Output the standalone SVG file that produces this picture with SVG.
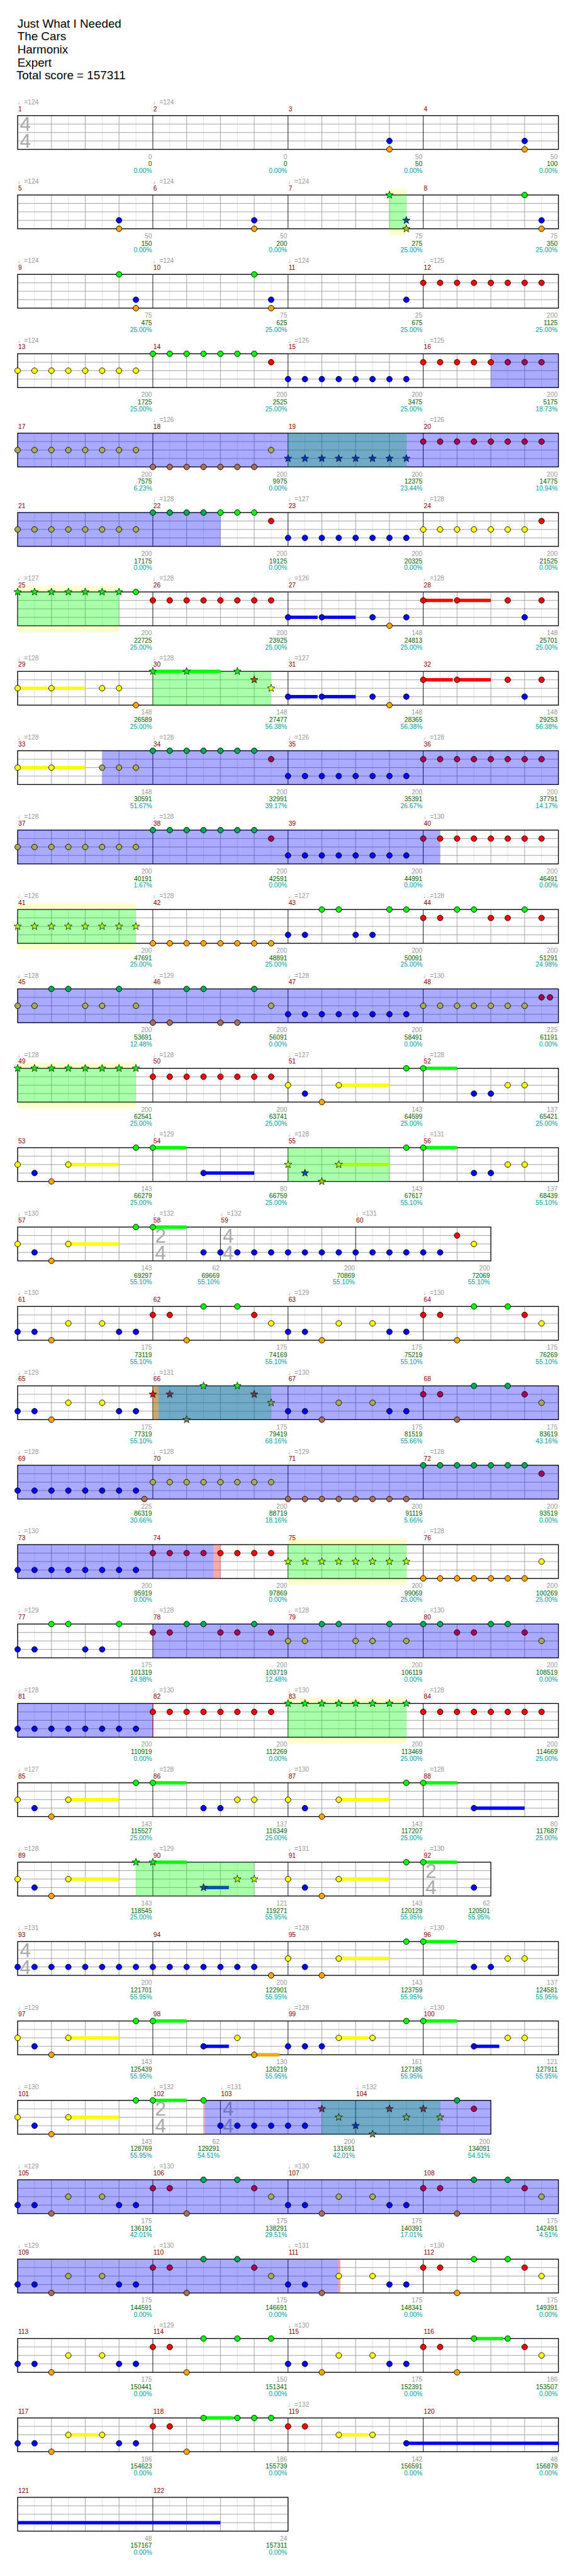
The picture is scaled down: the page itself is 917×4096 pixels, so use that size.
<svg xmlns="http://www.w3.org/2000/svg" width="917" height="4096" viewBox="0 0 917 4096">
<style>
text{font-family:"Liberation Sans",Arial,"DejaVu Sans",sans-serif;font-size:11.5px}
.h{font-size:21px;fill:#000}
.t{fill:#999}
.m{fill:#8b0000}
.a{fill:#999;text-anchor:end}
.b{fill:#006400;text-anchor:end}
.c{fill:#00a0a0;text-anchor:end}
.ts{font-size:35px;fill:#aaa}
circle{r:5px;stroke:#000;stroke-width:1}
.G{fill:#0f0}.R{fill:#f00}.Y{fill:#ff0}.B{fill:#00f}.O{fill:#ffa500}
.Gb{fill:#00aa55}.Rb{fill:#aa0055}.Yb{fill:#aaaa55}.Ob{fill:#aa6e55}
.Rg{fill:#aa5500}.Yg{fill:#aaff00}.Bg{fill:#0055aa}.Og{fill:#aac300}
.Rt{fill:#713955}.Yt{fill:#71aa55}.Bt{fill:#0039c6}.Ot{fill:#718255}
.yb{fill:#ffffcc}
.og{fill:#0f0;fill-opacity:.333}
.ob{fill:#00f;fill-opacity:.333}
.or{fill:#f00;fill-opacity:.333}
</style>
<defs>
<path id="st" d="M0-7L1.7-2.35L6.66-2.16L2.76.9L4.11 5.66L0 2.9L-4.11 5.66L-2.76.9L-6.66-2.16L-1.7-2.35Z" stroke="#000" stroke-width=".8"/>
<g id="s4">
<rect width="960" height="60" fill="#fff"/>
<path stroke="#ddd" d="M30 0v60M90 0v60M150 0v60M210 0v60M270 0v60M330 0v60M390 0v60M450 0v60M510 0v60M570 0v60M630 0v60M690 0v60M750 0v60M810 0v60M870 0v60M930 0v60"/>
<path stroke="#999" d="M60 0v60M120 0v60M180 0v60M300 0v60M360 0v60M420 0v60M540 0v60M600 0v60M660 0v60M780 0v60M840 0v60M900 0v60M0 15h960M0 30h960M0 45h960"/>
<path stroke="#000" d="M240 0v60M480 0v60M720 0v60"/>
<rect width="960" height="60" fill="none" stroke="#000" stroke-width="1.5"/>
</g>
<g id="s84a">
<rect width="840" height="60" fill="#fff"/>
<path stroke="#ddd" d="M30 0v60M90 0v60M150 0v60M210 0v60M270 0v60M330 0v60M390 0v60M450 0v60M510 0v60M570 0v60M630 0v60M690 0v60M750 0v60M810 0v60"/>
<path stroke="#999" d="M60 0v60M120 0v60M180 0v60M300 0v60M420 0v60M480 0v60M540 0v60M660 0v60M720 0v60M780 0v60M0 15h840M0 30h840M0 45h840"/>
<path stroke="#000" d="M240 0v60M360 0v60M600 0v60"/>
<rect width="840" height="60" fill="none" stroke="#000" stroke-width="1.5"/>
</g>
<g id="s84b">
<rect width="840" height="60" fill="#fff"/>
<path stroke="#ddd" d="M30 0v60M90 0v60M150 0v60M210 0v60M270 0v60M330 0v60M390 0v60M450 0v60M510 0v60M570 0v60M630 0v60M690 0v60M750 0v60M810 0v60"/>
<path stroke="#999" d="M60 0v60M120 0v60M180 0v60M300 0v60M360 0v60M420 0v60M540 0v60M600 0v60M660 0v60M780 0v60M0 15h840M0 30h840M0 45h840"/>
<path stroke="#000" d="M240 0v60M480 0v60M720 0v60"/>
<rect width="840" height="60" fill="none" stroke="#000" stroke-width="1.5"/>
</g>
<g id="s48">
<rect width="480" height="60" fill="#fff"/>
<path stroke="#ddd" d="M30 0v60M90 0v60M150 0v60M210 0v60M270 0v60M330 0v60M390 0v60M450 0v60"/>
<path stroke="#999" d="M60 0v60M120 0v60M180 0v60M300 0v60M360 0v60M420 0v60M0 15h480M0 30h480M0 45h480"/>
<path stroke="#000" d="M240 0v60"/>
<rect width="480" height="60" fill="none" stroke="#000" stroke-width="1.5"/>
</g>
</defs>
<rect width="917" height="4096" fill="#fff"/>
<g transform="scale(0.8953)">
<g id="header">
<text class="h" x="31" y="49">Just What I Needed</text>
<text class="h" x="31" y="72">The Cars</text>
<text class="h" x="31" y="95">Harmonix</text>
<text class="h" x="31" y="118">Expert</text>
<text class="h" x="29" y="141">Total score = 157311</text>
</g>

<g id="row-m1-4" transform="translate(31.3 205.3)">
<use href="#s4"/>
<text class="ts" x="4" y="27.5">4<tspan x="4" y="57.5">4</tspan></text>
<circle class="B" cx="660" cy="45"/><circle class="O" cx="660" cy="60"/><circle class="B" cx="900" cy="45"/><circle class="O" cx="900" cy="60"/>
<text class="t" x="0" y="-20">♩=124</text><text class="t" x="240" y="-20">♩=124</text>
<text class="m" x="1" y="-8">1</text><text class="m" x="241" y="-8">2</text><text class="m" x="481" y="-8">3</text><text class="m" x="721" y="-8">4</text>
<text class="a" x="238.5" y="77">0</text><text class="b" x="238.5" y="90">0</text><text class="c" x="238.5" y="102">0.00%</text>
<text class="a" x="478.5" y="77">0</text><text class="b" x="478.5" y="90">0</text><text class="c" x="478.5" y="102">0.00%</text>
<text class="a" x="718.5" y="77">50</text><text class="b" x="718.5" y="90">50</text><text class="c" x="718.5" y="102">0.00%</text>
<text class="a" x="958.5" y="77">50</text><text class="b" x="958.5" y="90">100</text><text class="c" x="958.5" y="102">0.00%</text>
</g>

<g id="row-m5-8" transform="translate(31.3 346.3)">
<rect class="yb" x="660" y="-10.5" width="30" height="82"/>
<use href="#s4"/>
<rect class="og" x="660" width="30" height="60"/>
<circle class="B" cx="180" cy="45"/><circle class="O" cx="180" cy="60"/><circle class="B" cx="420" cy="45"/><circle class="O" cx="420" cy="60"/>
<use href="#st" class="G" x="660" y="0"/><use href="#st" class="Bg" x="690" y="45"/><use href="#st" class="Og" x="690" y="60"/>
<circle class="G" cx="900" cy="0"/><circle class="B" cx="930" cy="45"/><circle class="O" cx="930" cy="60"/>
<text class="t" x="0" y="-20">♩=124</text><text class="t" x="240" y="-20">♩=124</text><text class="t" x="480" y="-20">♩=124</text>
<text class="m" x="1" y="-8">5</text><text class="m" x="241" y="-8">6</text><text class="m" x="481" y="-8">7</text><text class="m" x="721" y="-8">8</text>
<text class="a" x="238.5" y="77">50</text><text class="b" x="238.5" y="90">150</text><text class="c" x="238.5" y="102">0.00%</text>
<text class="a" x="478.5" y="77">50</text><text class="b" x="478.5" y="90">200</text><text class="c" x="478.5" y="102">0.00%</text>
<text class="a" x="718.5" y="77">75</text><text class="b" x="718.5" y="90">275</text><text class="c" x="718.5" y="102">25.00%</text>
<text class="a" x="958.5" y="77">75</text><text class="b" x="958.5" y="90">350</text><text class="c" x="958.5" y="102">25.00%</text>
</g>

<g id="row-m9-12" transform="translate(31.3 487.3)">
<use href="#s4"/>
<circle class="G" cx="180" cy="0"/><circle class="B" cx="210" cy="45"/><circle class="O" cx="210" cy="60"/>
<circle class="G" cx="420" cy="0"/><circle class="B" cx="450" cy="45"/><circle class="O" cx="450" cy="60"/>
<circle class="B" cx="690" cy="45"/>
<circle class="R" cx="720" cy="15"/><circle class="R" cx="750" cy="15"/><circle class="R" cx="780" cy="15"/><circle class="R" cx="810" cy="15"/><circle class="R" cx="840" cy="15"/><circle class="R" cx="870" cy="15"/><circle class="R" cx="900" cy="15"/><circle class="R" cx="930" cy="15"/>
<text class="t" x="0" y="-20">♩=124</text><text class="t" x="240" y="-20">♩=124</text><text class="t" x="480" y="-20">♩=124</text><text class="t" x="720" y="-20">♩=125</text>
<text class="m" x="1" y="-8">9</text><text class="m" x="241" y="-8">10</text><text class="m" x="481" y="-8">11</text><text class="m" x="721" y="-8">12</text>
<text class="a" x="238.5" y="77">75</text><text class="b" x="238.5" y="90">475</text><text class="c" x="238.5" y="102">25.00%</text>
<text class="a" x="478.5" y="77">75</text><text class="b" x="478.5" y="90">625</text><text class="c" x="478.5" y="102">25.00%</text>
<text class="a" x="718.5" y="77">25</text><text class="b" x="718.5" y="90">675</text><text class="c" x="718.5" y="102">25.00%</text>
<text class="a" x="958.5" y="77">200</text><text class="b" x="958.5" y="90">1125</text><text class="c" x="958.5" y="102">25.00%</text>
</g>

<g id="row-m13-16" transform="translate(31.3 628.3)">
<use href="#s4"/>
<rect class="ob" x="840" width="120" height="60"/>
<circle class="Y" cx="0" cy="30"/><circle class="Y" cx="30" cy="30"/><circle class="Y" cx="60" cy="30"/><circle class="Y" cx="90" cy="30"/><circle class="Y" cx="120" cy="30"/><circle class="Y" cx="150" cy="30"/><circle class="Y" cx="180" cy="30"/><circle class="Y" cx="210" cy="30"/>
<circle class="G" cx="240" cy="0"/><circle class="G" cx="270" cy="0"/><circle class="G" cx="300" cy="0"/><circle class="G" cx="330" cy="0"/><circle class="G" cx="360" cy="0"/><circle class="G" cx="390" cy="0"/><circle class="G" cx="420" cy="0"/><circle class="R" cx="450" cy="15"/>
<circle class="B" cx="480" cy="45"/><circle class="B" cx="510" cy="45"/><circle class="B" cx="540" cy="45"/><circle class="B" cx="570" cy="45"/><circle class="B" cx="600" cy="45"/><circle class="B" cx="630" cy="45"/><circle class="B" cx="660" cy="45"/><circle class="B" cx="690" cy="45"/>
<circle class="R" cx="720" cy="15"/><circle class="R" cx="750" cy="15"/><circle class="R" cx="780" cy="15"/><circle class="R" cx="810" cy="15"/><circle class="R" cx="840" cy="15"/><circle class="Rb" cx="870" cy="15"/><circle class="Rb" cx="900" cy="15"/><circle class="Rb" cx="930" cy="15"/>
<text class="t" x="0" y="-20">♩=124</text><text class="t" x="480" y="-20">♩=126</text><text class="t" x="720" y="-20">♩=125</text>
<text class="m" x="1" y="-8">13</text><text class="m" x="241" y="-8">14</text><text class="m" x="481" y="-8">15</text><text class="m" x="721" y="-8">16</text>
<text class="a" x="238.5" y="77">200</text><text class="b" x="238.5" y="90">1725</text><text class="c" x="238.5" y="102">25.00%</text>
<text class="a" x="478.5" y="77">200</text><text class="b" x="478.5" y="90">2525</text><text class="c" x="478.5" y="102">25.00%</text>
<text class="a" x="718.5" y="77">200</text><text class="b" x="718.5" y="90">3475</text><text class="c" x="718.5" y="102">25.00%</text>
<text class="a" x="958.5" y="77">200</text><text class="b" x="958.5" y="90">5175</text><text class="c" x="958.5" y="102">18.73%</text>
</g>

<g id="row-m17-20" transform="translate(31.3 769.3)">
<use href="#s4"/>
<rect class="og" x="480" width="210" height="60"/>
<rect class="ob" x="0" width="960" height="60"/>
<circle class="Yb" cx="0" cy="30"/><circle class="Yb" cx="30" cy="30"/><circle class="Yb" cx="60" cy="30"/><circle class="Yb" cx="90" cy="30"/><circle class="Yb" cx="120" cy="30"/><circle class="Yb" cx="150" cy="30"/><circle class="Yb" cx="180" cy="30"/><circle class="Yb" cx="210" cy="30"/>
<circle class="Ob" cx="240" cy="60"/><circle class="Ob" cx="270" cy="60"/><circle class="Ob" cx="300" cy="60"/><circle class="Ob" cx="330" cy="60"/><circle class="Ob" cx="360" cy="60"/><circle class="Ob" cx="390" cy="60"/><circle class="Ob" cx="420" cy="60"/><circle class="Yb" cx="450" cy="30"/>
<use href="#st" class="Bt" x="480" y="45"/><use href="#st" class="Bt" x="510" y="45"/><use href="#st" class="Bt" x="540" y="45"/><use href="#st" class="Bt" x="570" y="45"/><use href="#st" class="Bt" x="600" y="45"/><use href="#st" class="Bt" x="630" y="45"/><use href="#st" class="Bt" x="660" y="45"/><use href="#st" class="Bt" x="690" y="45"/>
<circle class="Rb" cx="720" cy="15"/><circle class="Rb" cx="750" cy="15"/><circle class="Rb" cx="780" cy="15"/><circle class="Rb" cx="810" cy="15"/><circle class="Rb" cx="840" cy="15"/><circle class="Rb" cx="870" cy="15"/><circle class="Rb" cx="900" cy="15"/><circle class="Rb" cx="930" cy="15"/>
<text class="t" x="240" y="-20">♩=126</text><text class="t" x="720" y="-20">♩=126</text>
<text class="m" x="1" y="-8">17</text><text class="m" x="241" y="-8">18</text><text class="m" x="481" y="-8">19</text><text class="m" x="721" y="-8">20</text>
<text class="a" x="238.5" y="77">200</text><text class="b" x="238.5" y="90">7575</text><text class="c" x="238.5" y="102">6.23%</text>
<text class="a" x="478.5" y="77">200</text><text class="b" x="478.5" y="90">9975</text><text class="c" x="478.5" y="102">0.00%</text>
<text class="a" x="718.5" y="77">200</text><text class="b" x="718.5" y="90">12375</text><text class="c" x="718.5" y="102">23.44%</text>
<text class="a" x="958.5" y="77">200</text><text class="b" x="958.5" y="90">14775</text><text class="c" x="958.5" y="102">10.94%</text>
</g>

<g id="row-m21-24" transform="translate(31.3 910.3)">
<use href="#s4"/>
<rect class="ob" x="0" width="360" height="60"/>
<circle class="Yb" cx="0" cy="30"/><circle class="Yb" cx="30" cy="30"/><circle class="Yb" cx="60" cy="30"/><circle class="Yb" cx="90" cy="30"/><circle class="Yb" cx="120" cy="30"/><circle class="Yb" cx="150" cy="30"/><circle class="Yb" cx="180" cy="30"/><circle class="Yb" cx="210" cy="30"/>
<circle class="Gb" cx="240" cy="0"/><circle class="Gb" cx="270" cy="0"/><circle class="Gb" cx="300" cy="0"/><circle class="Gb" cx="330" cy="0"/><circle class="G" cx="360" cy="0"/><circle class="G" cx="390" cy="0"/><circle class="G" cx="420" cy="0"/><circle class="R" cx="450" cy="15"/>
<circle class="B" cx="480" cy="45"/><circle class="B" cx="510" cy="45"/><circle class="B" cx="540" cy="45"/><circle class="B" cx="570" cy="45"/><circle class="B" cx="600" cy="45"/><circle class="B" cx="630" cy="45"/><circle class="B" cx="660" cy="45"/><circle class="B" cx="690" cy="45"/>
<circle class="Y" cx="720" cy="30"/><circle class="Y" cx="750" cy="30"/><circle class="Y" cx="780" cy="30"/><circle class="Y" cx="810" cy="30"/><circle class="Y" cx="840" cy="30"/><circle class="Y" cx="870" cy="30"/><circle class="Y" cx="900" cy="30"/><circle class="R" cx="930" cy="15"/>
<text class="t" x="240" y="-20">♩=128</text><text class="t" x="480" y="-20">♩=127</text><text class="t" x="720" y="-20">♩=128</text>
<text class="m" x="1" y="-8">21</text><text class="m" x="241" y="-8">22</text><text class="m" x="481" y="-8">23</text><text class="m" x="721" y="-8">24</text>
<text class="a" x="238.5" y="77">200</text><text class="b" x="238.5" y="90">17175</text><text class="c" x="238.5" y="102">0.00%</text>
<text class="a" x="478.5" y="77">200</text><text class="b" x="478.5" y="90">19125</text><text class="c" x="478.5" y="102">0.00%</text>
<text class="a" x="718.5" y="77">200</text><text class="b" x="718.5" y="90">20325</text><text class="c" x="718.5" y="102">0.00%</text>
<text class="a" x="958.5" y="77">200</text><text class="b" x="958.5" y="90">21525</text><text class="c" x="958.5" y="102">0.00%</text>
</g>

<g id="row-m25-28" transform="translate(31.3 1051.3)">
<rect class="yb" x="0" y="-10.5" width="180" height="82"/>
<use href="#s4"/>
<rect class="og" x="0" width="180" height="60"/>
<rect class="B" x="480" y="42" width="52.5" height="6"/><rect class="B" x="540" y="42" width="60" height="6"/>
<rect class="R" x="720" y="12" width="52.5" height="6"/><rect class="R" x="780" y="12" width="60" height="6"/>
<use href="#st" class="G" x="0" y="0"/><use href="#st" class="G" x="30" y="0"/><use href="#st" class="G" x="60" y="0"/><use href="#st" class="G" x="90" y="0"/><use href="#st" class="G" x="120" y="0"/><use href="#st" class="G" x="150" y="0"/><use href="#st" class="G" x="180" y="0"/>
<circle class="G" cx="210" cy="0"/>
<circle class="R" cx="240" cy="15"/><circle class="R" cx="270" cy="15"/><circle class="R" cx="300" cy="15"/><circle class="R" cx="330" cy="15"/><circle class="R" cx="360" cy="15"/><circle class="R" cx="390" cy="15"/><circle class="R" cx="420" cy="15"/><circle class="R" cx="450" cy="15"/>
<circle class="B" cx="480" cy="45"/><circle class="B" cx="540" cy="45"/><circle class="B" cx="630" cy="45"/><circle class="O" cx="660" cy="60"/><circle class="B" cx="690" cy="45"/>
<circle class="R" cx="720" cy="15"/><circle class="R" cx="780" cy="15"/><circle class="R" cx="870" cy="15"/><circle class="B" cx="900" cy="45"/><circle class="R" cx="930" cy="15"/>
<text class="t" x="0" y="-20">♩=127</text><text class="t" x="240" y="-20">♩=128</text><text class="t" x="480" y="-20">♩=126</text><text class="t" x="720" y="-20">♩=128</text>
<text class="m" x="1" y="-8">25</text><text class="m" x="241" y="-8">26</text><text class="m" x="481" y="-8">27</text><text class="m" x="721" y="-8">28</text>
<text class="a" x="238.5" y="77">200</text><text class="b" x="238.5" y="90">22725</text><text class="c" x="238.5" y="102">25.00%</text>
<text class="a" x="478.5" y="77">200</text><text class="b" x="478.5" y="90">23925</text><text class="c" x="478.5" y="102">25.00%</text>
<text class="a" x="718.5" y="77">148</text><text class="b" x="718.5" y="90">24813</text><text class="c" x="718.5" y="102">25.00%</text>
<text class="a" x="958.5" y="77">148</text><text class="b" x="958.5" y="90">25701</text><text class="c" x="958.5" y="102">25.00%</text>
</g>

<g id="row-m29-32" transform="translate(31.3 1192.3)">
<use href="#s4"/>
<rect class="og" x="240" width="210" height="60"/>
<rect class="Y" x="0" y="27" width="52.5" height="6"/><rect class="Y" x="60" y="27" width="60" height="6"/>
<rect class="G" x="240" y="-3" width="52.5" height="6"/><rect class="G" x="300" y="-3" width="60" height="6"/>
<rect class="B" x="480" y="42" width="52.5" height="6"/><rect class="B" x="540" y="42" width="60" height="6"/>
<rect class="R" x="720" y="12" width="52.5" height="6"/><rect class="R" x="780" y="12" width="60" height="6"/>
<circle class="Y" cx="0" cy="30"/><circle class="Y" cx="60" cy="30"/><circle class="Y" cx="150" cy="30"/><circle class="Y" cx="180" cy="30"/><circle class="O" cx="210" cy="60"/>
<use href="#st" class="G" x="240" y="0"/><use href="#st" class="G" x="300" y="0"/><use href="#st" class="G" x="390" y="0"/><use href="#st" class="Rg" x="420" y="15"/><use href="#st" class="Y" x="450" y="30"/>
<circle class="B" cx="480" cy="45"/><circle class="B" cx="540" cy="45"/><circle class="B" cx="630" cy="45"/><circle class="O" cx="660" cy="60"/><circle class="B" cx="690" cy="45"/>
<circle class="R" cx="720" cy="15"/><circle class="R" cx="780" cy="15"/><circle class="R" cx="870" cy="15"/><circle class="B" cx="900" cy="45"/><circle class="R" cx="930" cy="15"/>
<text class="t" x="0" y="-20">♩=128</text><text class="t" x="240" y="-20">♩=128</text><text class="t" x="480" y="-20">♩=127</text>
<text class="m" x="1" y="-8">29</text><text class="m" x="241" y="-8">30</text><text class="m" x="481" y="-8">31</text><text class="m" x="721" y="-8">32</text>
<text class="a" x="238.5" y="77">148</text><text class="b" x="238.5" y="90">26589</text><text class="c" x="238.5" y="102">25.00%</text>
<text class="a" x="478.5" y="77">148</text><text class="b" x="478.5" y="90">27477</text><text class="c" x="478.5" y="102">56.38%</text>
<text class="a" x="718.5" y="77">148</text><text class="b" x="718.5" y="90">28365</text><text class="c" x="718.5" y="102">56.38%</text>
<text class="a" x="958.5" y="77">148</text><text class="b" x="958.5" y="90">29253</text><text class="c" x="958.5" y="102">56.38%</text>
</g>

<g id="row-m33-36" transform="translate(31.3 1333.3)">
<use href="#s4"/>
<rect class="ob" x="150" width="810" height="60"/>
<rect class="Y" x="0" y="27" width="52.5" height="6"/><rect class="Y" x="60" y="27" width="60" height="6"/>
<circle class="Y" cx="0" cy="30"/><circle class="Y" cx="60" cy="30"/><circle class="Yb" cx="150" cy="30"/><circle class="Yb" cx="180" cy="30"/><circle class="Yb" cx="210" cy="30"/>
<circle class="Gb" cx="240" cy="0"/><circle class="Gb" cx="270" cy="0"/><circle class="Gb" cx="300" cy="0"/><circle class="Gb" cx="330" cy="0"/><circle class="Gb" cx="360" cy="0"/><circle class="Gb" cx="390" cy="0"/><circle class="Gb" cx="420" cy="0"/><circle class="Rb" cx="450" cy="15"/>
<circle class="B" cx="480" cy="45"/><circle class="B" cx="510" cy="45"/><circle class="B" cx="540" cy="45"/><circle class="B" cx="570" cy="45"/><circle class="B" cx="600" cy="45"/><circle class="B" cx="630" cy="45"/><circle class="B" cx="660" cy="45"/><circle class="B" cx="690" cy="45"/>
<circle class="Rb" cx="720" cy="15"/><circle class="Rb" cx="750" cy="15"/><circle class="Rb" cx="780" cy="15"/><circle class="Rb" cx="810" cy="15"/><circle class="Rb" cx="840" cy="15"/><circle class="Rb" cx="870" cy="15"/><circle class="Rb" cx="900" cy="15"/><circle class="Rb" cx="930" cy="15"/>
<text class="t" x="0" y="-20">♩=128</text><text class="t" x="240" y="-20">♩=128</text><text class="t" x="480" y="-20">♩=126</text><text class="t" x="720" y="-20">♩=128</text>
<text class="m" x="1" y="-8">33</text><text class="m" x="241" y="-8">34</text><text class="m" x="481" y="-8">35</text><text class="m" x="721" y="-8">36</text>
<text class="a" x="238.5" y="77">148</text><text class="b" x="238.5" y="90">30591</text><text class="c" x="238.5" y="102">51.67%</text>
<text class="a" x="478.5" y="77">200</text><text class="b" x="478.5" y="90">32991</text><text class="c" x="478.5" y="102">39.17%</text>
<text class="a" x="718.5" y="77">200</text><text class="b" x="718.5" y="90">35391</text><text class="c" x="718.5" y="102">26.67%</text>
<text class="a" x="958.5" y="77">200</text><text class="b" x="958.5" y="90">37791</text><text class="c" x="958.5" y="102">14.17%</text>
</g>

<g id="row-m37-40" transform="translate(31.3 1474.3)">
<use href="#s4"/>
<rect class="ob" x="0" width="750" height="60"/>
<circle class="Yb" cx="0" cy="30"/><circle class="Yb" cx="30" cy="30"/><circle class="Yb" cx="60" cy="30"/><circle class="Yb" cx="90" cy="30"/><circle class="Yb" cx="120" cy="30"/><circle class="Yb" cx="150" cy="30"/><circle class="Yb" cx="180" cy="30"/><circle class="Yb" cx="210" cy="30"/>
<circle class="Gb" cx="240" cy="0"/><circle class="Gb" cx="270" cy="0"/><circle class="Gb" cx="300" cy="0"/><circle class="Gb" cx="330" cy="0"/><circle class="Gb" cx="360" cy="0"/><circle class="Gb" cx="390" cy="0"/><circle class="Gb" cx="420" cy="0"/><circle class="Rb" cx="450" cy="15"/>
<circle class="B" cx="480" cy="45"/><circle class="B" cx="510" cy="45"/><circle class="B" cx="540" cy="45"/><circle class="B" cx="570" cy="45"/><circle class="B" cx="600" cy="45"/><circle class="B" cx="630" cy="45"/><circle class="B" cx="660" cy="45"/><circle class="B" cx="690" cy="45"/>
<circle class="Rb" cx="720" cy="15"/><circle class="R" cx="750" cy="15"/><circle class="R" cx="780" cy="15"/><circle class="R" cx="810" cy="15"/><circle class="R" cx="840" cy="15"/><circle class="R" cx="870" cy="15"/><circle class="R" cx="900" cy="15"/><circle class="R" cx="930" cy="15"/>
<text class="t" x="0" y="-20">♩=128</text><text class="t" x="240" y="-20">♩=128</text><text class="t" x="720" y="-20">♩=130</text>
<text class="m" x="1" y="-8">37</text><text class="m" x="241" y="-8">38</text><text class="m" x="481" y="-8">39</text><text class="m" x="721" y="-8">40</text>
<text class="a" x="238.5" y="77">200</text><text class="b" x="238.5" y="90">40191</text><text class="c" x="238.5" y="102">1.67%</text>
<text class="a" x="478.5" y="77">200</text><text class="b" x="478.5" y="90">42591</text><text class="c" x="478.5" y="102">0.00%</text>
<text class="a" x="718.5" y="77">200</text><text class="b" x="718.5" y="90">44991</text><text class="c" x="718.5" y="102">0.00%</text>
<text class="a" x="958.5" y="77">200</text><text class="b" x="958.5" y="90">46491</text><text class="c" x="958.5" y="102">0.00%</text>
</g>

<g id="row-m41-44" transform="translate(31.3 1615.3)">
<rect class="yb" x="0" y="-10.5" width="210" height="82"/>
<use href="#s4"/>
<rect class="og" x="0" width="210" height="60"/>
<use href="#st" class="Yg" x="0" y="30"/><use href="#st" class="Yg" x="30" y="30"/><use href="#st" class="Yg" x="60" y="30"/><use href="#st" class="Yg" x="90" y="30"/><use href="#st" class="Yg" x="120" y="30"/><use href="#st" class="Yg" x="150" y="30"/><use href="#st" class="Yg" x="180" y="30"/><use href="#st" class="Yg" x="210" y="30"/>
<circle class="O" cx="240" cy="60"/><circle class="O" cx="270" cy="60"/><circle class="O" cx="300" cy="60"/><circle class="O" cx="330" cy="60"/><circle class="O" cx="360" cy="60"/><circle class="O" cx="390" cy="60"/><circle class="O" cx="420" cy="60"/><circle class="O" cx="450" cy="60"/>
<circle class="B" cx="480" cy="45"/><circle class="B" cx="510" cy="45"/><circle class="G" cx="540" cy="0"/><circle class="G" cx="570" cy="0"/><circle class="B" cx="600" cy="45"/><circle class="B" cx="630" cy="45"/><circle class="G" cx="660" cy="0"/><circle class="G" cx="690" cy="0"/>
<circle class="R" cx="720" cy="15"/><circle class="R" cx="750" cy="15"/><circle class="G" cx="780" cy="0"/><circle class="G" cx="810" cy="0"/><circle class="R" cx="840" cy="15"/><circle class="R" cx="870" cy="15"/><circle class="G" cx="900" cy="0"/><circle class="R" cx="930" cy="15"/>
<text class="t" x="0" y="-20">♩=126</text><text class="t" x="240" y="-20">♩=128</text><text class="t" x="480" y="-20">♩=127</text><text class="t" x="720" y="-20">♩=128</text>
<text class="m" x="1" y="-8">41</text><text class="m" x="241" y="-8">42</text><text class="m" x="481" y="-8">43</text><text class="m" x="721" y="-8">44</text>
<text class="a" x="238.5" y="77">200</text><text class="b" x="238.5" y="90">47691</text><text class="c" x="238.5" y="102">25.00%</text>
<text class="a" x="478.5" y="77">200</text><text class="b" x="478.5" y="90">48891</text><text class="c" x="478.5" y="102">25.00%</text>
<text class="a" x="718.5" y="77">200</text><text class="b" x="718.5" y="90">50091</text><text class="c" x="718.5" y="102">25.00%</text>
<text class="a" x="958.5" y="77">200</text><text class="b" x="958.5" y="90">51291</text><text class="c" x="958.5" y="102">24.98%</text>
</g>

<g id="row-m45-48" transform="translate(31.3 1756.3)">
<use href="#s4"/>
<rect class="ob" x="0" width="960" height="60"/>
<circle class="Yb" cx="0" cy="30"/><circle class="Yb" cx="30" cy="30"/><circle class="Gb" cx="60" cy="0"/><circle class="Gb" cx="90" cy="0"/><circle class="Yb" cx="120" cy="30"/><circle class="Yb" cx="150" cy="30"/><circle class="Gb" cx="180" cy="0"/><circle class="Yb" cx="210" cy="30"/>
<circle class="Ob" cx="240" cy="60"/><circle class="Ob" cx="270" cy="60"/><circle class="Gb" cx="300" cy="0"/><circle class="Gb" cx="330" cy="0"/><circle class="Ob" cx="360" cy="60"/><circle class="Ob" cx="390" cy="60"/><circle class="Gb" cx="420" cy="0"/><circle class="Yb" cx="450" cy="30"/>
<circle class="B" cx="480" cy="45"/><circle class="B" cx="510" cy="45"/><circle class="B" cx="540" cy="45"/><circle class="B" cx="570" cy="45"/><circle class="B" cx="600" cy="45"/><circle class="B" cx="630" cy="45"/><circle class="B" cx="660" cy="45"/><circle class="B" cx="690" cy="45"/>
<circle class="Yb" cx="720" cy="30"/><circle class="Yb" cx="750" cy="30"/><circle class="Yb" cx="780" cy="30"/><circle class="Yb" cx="810" cy="30"/><circle class="Yb" cx="840" cy="30"/><circle class="Yb" cx="870" cy="30"/><circle class="Yb" cx="900" cy="30"/><circle class="Rb" cx="930" cy="15"/><circle class="Rb" cx="945" cy="15"/>
<text class="t" x="0" y="-20">♩=128</text><text class="t" x="240" y="-20">♩=129</text><text class="t" x="480" y="-20">♩=128</text><text class="t" x="720" y="-20">♩=130</text>
<text class="m" x="1" y="-8">45</text><text class="m" x="241" y="-8">46</text><text class="m" x="481" y="-8">47</text><text class="m" x="721" y="-8">48</text>
<text class="a" x="238.5" y="77">200</text><text class="b" x="238.5" y="90">53691</text><text class="c" x="238.5" y="102">12.48%</text>
<text class="a" x="478.5" y="77">200</text><text class="b" x="478.5" y="90">56091</text><text class="c" x="478.5" y="102">0.00%</text>
<text class="a" x="718.5" y="77">200</text><text class="b" x="718.5" y="90">58491</text><text class="c" x="718.5" y="102">0.00%</text>
<text class="a" x="958.5" y="77">225</text><text class="b" x="958.5" y="90">61191</text><text class="c" x="958.5" y="102">0.00%</text>
</g>

<g id="row-m49-52" transform="translate(31.3 1897.3)">
<rect class="yb" x="0" y="-10.5" width="210" height="82"/>
<use href="#s4"/>
<rect class="og" x="0" width="210" height="60"/>
<rect class="Y" x="570" y="27" width="90" height="6"/><rect class="G" x="720" y="-3" width="60" height="6"/>
<use href="#st" class="G" x="0" y="0"/><use href="#st" class="G" x="30" y="0"/><use href="#st" class="G" x="60" y="0"/><use href="#st" class="G" x="90" y="0"/><use href="#st" class="G" x="120" y="0"/><use href="#st" class="G" x="150" y="0"/><use href="#st" class="G" x="180" y="0"/><use href="#st" class="G" x="210" y="0"/>
<circle class="R" cx="240" cy="15"/><circle class="R" cx="270" cy="15"/><circle class="R" cx="300" cy="15"/><circle class="R" cx="330" cy="15"/><circle class="R" cx="360" cy="15"/><circle class="R" cx="390" cy="15"/><circle class="R" cx="420" cy="15"/><circle class="R" cx="450" cy="15"/>
<circle class="Y" cx="480" cy="30"/><circle class="B" cx="510" cy="45"/><circle class="O" cx="540" cy="60"/><circle class="Y" cx="570" cy="30"/><circle class="G" cx="690" cy="0"/>
<circle class="G" cx="720" cy="0"/><circle class="B" cx="810" cy="45"/><circle class="B" cx="840" cy="45"/><circle class="Y" cx="870" cy="30"/><circle class="Y" cx="900" cy="30"/>
<text class="t" x="0" y="-20">♩=128</text><text class="t" x="240" y="-20">♩=128</text><text class="t" x="480" y="-20">♩=127</text><text class="t" x="720" y="-20">♩=128</text>
<text class="m" x="1" y="-8">49</text><text class="m" x="241" y="-8">50</text><text class="m" x="481" y="-8">51</text><text class="m" x="721" y="-8">52</text>
<text class="a" x="238.5" y="77">200</text><text class="b" x="238.5" y="90">62541</text><text class="c" x="238.5" y="102">25.00%</text>
<text class="a" x="478.5" y="77">200</text><text class="b" x="478.5" y="90">63741</text><text class="c" x="478.5" y="102">25.00%</text>
<text class="a" x="718.5" y="77">143</text><text class="b" x="718.5" y="90">64599</text><text class="c" x="718.5" y="102">25.00%</text>
<text class="a" x="958.5" y="77">137</text><text class="b" x="958.5" y="90">65421</text><text class="c" x="958.5" y="102">25.00%</text>
</g>

<g id="row-m53-56" transform="translate(31.3 2038.3)">
<use href="#s4"/>
<rect class="og" x="480" width="180" height="60"/>
<rect class="Y" x="90" y="27" width="90" height="6"/><rect class="G" x="240" y="-3" width="60" height="6"/><rect class="B" x="330" y="42" width="90" height="6"/>
<rect class="Yg" x="570" y="27" width="90" height="6"/><rect class="G" x="720" y="-3" width="60" height="6"/>
<circle class="Y" cx="0" cy="30"/><circle class="B" cx="30" cy="45"/><circle class="O" cx="60" cy="60"/><circle class="Y" cx="90" cy="30"/><circle class="G" cx="210" cy="0"/>
<circle class="G" cx="240" cy="0"/><circle class="B" cx="330" cy="45"/>
<use href="#st" class="Yg" x="480" y="30"/><use href="#st" class="Bg" x="510" y="45"/><use href="#st" class="Og" x="540" y="60"/><use href="#st" class="Yg" x="570" y="30"/>
<circle class="G" cx="690" cy="0"/><circle class="G" cx="720" cy="0"/><circle class="B" cx="810" cy="45"/><circle class="B" cx="840" cy="45"/><circle class="Y" cx="870" cy="30"/><circle class="Y" cx="900" cy="30"/>
<text class="t" x="240" y="-20">♩=129</text><text class="t" x="480" y="-20">♩=128</text><text class="t" x="720" y="-20">♩=131</text>
<text class="m" x="1" y="-8">53</text><text class="m" x="241" y="-8">54</text><text class="m" x="481" y="-8">55</text><text class="m" x="721" y="-8">56</text>
<text class="a" x="238.5" y="77">143</text><text class="b" x="238.5" y="90">66279</text><text class="c" x="238.5" y="102">25.00%</text>
<text class="a" x="478.5" y="77">80</text><text class="b" x="478.5" y="90">66759</text><text class="c" x="478.5" y="102">25.00%</text>
<text class="a" x="718.5" y="77">143</text><text class="b" x="718.5" y="90">67617</text><text class="c" x="718.5" y="102">55.10%</text>
<text class="a" x="958.5" y="77">137</text><text class="b" x="958.5" y="90">68439</text><text class="c" x="958.5" y="102">55.10%</text>
</g>

<g id="row-m57-60" transform="translate(31.3 2179.3)">
<use href="#s84a"/>
<text class="ts" x="244" y="27.5">2<tspan x="244" y="57.5">4</tspan></text><text class="ts" x="364" y="27.5">4<tspan x="364" y="57.5">4</tspan></text>
<rect class="Y" x="90" y="27" width="90" height="6"/><rect class="G" x="240" y="-3" width="60" height="6"/>
<circle class="Y" cx="0" cy="30"/><circle class="B" cx="30" cy="45"/><circle class="O" cx="60" cy="60"/><circle class="Y" cx="90" cy="30"/><circle class="G" cx="210" cy="0"/><circle class="G" cx="240" cy="0"/>
<circle class="B" cx="330" cy="45"/><circle class="B" cx="360" cy="45"/><circle class="B" cx="390" cy="45"/><circle class="B" cx="420" cy="45"/><circle class="B" cx="450" cy="45"/><circle class="B" cx="480" cy="45"/><circle class="B" cx="510" cy="45"/><circle class="B" cx="540" cy="45"/>
<circle class="B" cx="570" cy="45"/><circle class="B" cx="600" cy="45"/><circle class="B" cx="630" cy="45"/><circle class="B" cx="660" cy="45"/><circle class="B" cx="690" cy="45"/><circle class="B" cx="720" cy="45"/><circle class="B" cx="750" cy="45"/><circle class="R" cx="780" cy="15"/><circle class="Y" cx="810" cy="30"/>
<text class="t" x="0" y="-20">♩=130</text><text class="t" x="240" y="-20">♩=132</text><text class="t" x="360" y="-20">♩=132</text><text class="t" x="600" y="-20">♩=131</text>
<text class="m" x="1" y="-8">57</text><text class="m" x="241" y="-8">58</text><text class="m" x="361" y="-8">59</text><text class="m" x="601" y="-8">60</text>
<text class="a" x="238.5" y="77">143</text><text class="b" x="238.5" y="90">69297</text><text class="c" x="238.5" y="102">55.10%</text>
<text class="a" x="358.5" y="77">62</text><text class="b" x="358.5" y="90">69669</text><text class="c" x="358.5" y="102">55.10%</text>
<text class="a" x="598.5" y="77">200</text><text class="b" x="598.5" y="90">70869</text><text class="c" x="598.5" y="102">55.10%</text>
<text class="a" x="838.5" y="77">200</text><text class="b" x="838.5" y="90">72069</text><text class="c" x="838.5" y="102">55.10%</text>
</g>

<g id="row-m61-64" transform="translate(31.3 2320.3)">
<use href="#s4"/>
<circle class="B" cx="0" cy="45"/><circle class="B" cx="30" cy="45"/><circle class="O" cx="60" cy="60"/><circle class="Y" cx="90" cy="30"/><circle class="Y" cx="150" cy="30"/><circle class="B" cx="180" cy="45"/><circle class="B" cx="210" cy="45"/>
<circle class="R" cx="240" cy="15"/><circle class="R" cx="270" cy="15"/><circle class="O" cx="300" cy="60"/><circle class="G" cx="330" cy="0"/><circle class="G" cx="390" cy="0"/><circle class="R" cx="420" cy="15"/><circle class="Y" cx="450" cy="30"/>
<circle class="B" cx="480" cy="45"/><circle class="B" cx="510" cy="45"/><circle class="O" cx="540" cy="60"/><circle class="Y" cx="570" cy="30"/><circle class="Y" cx="630" cy="30"/><circle class="B" cx="660" cy="45"/><circle class="B" cx="690" cy="45"/>
<circle class="R" cx="720" cy="15"/><circle class="R" cx="750" cy="15"/><circle class="O" cx="780" cy="60"/><circle class="G" cx="810" cy="0"/><circle class="G" cx="870" cy="0"/><circle class="R" cx="900" cy="15"/><circle class="Y" cx="930" cy="30"/>
<text class="t" x="0" y="-20">♩=130</text><text class="t" x="480" y="-20">♩=129</text><text class="t" x="720" y="-20">♩=130</text>
<text class="m" x="1" y="-8">61</text><text class="m" x="241" y="-8">62</text><text class="m" x="481" y="-8">63</text><text class="m" x="721" y="-8">64</text>
<text class="a" x="238.5" y="77">175</text><text class="b" x="238.5" y="90">73119</text><text class="c" x="238.5" y="102">55.10%</text>
<text class="a" x="478.5" y="77">175</text><text class="b" x="478.5" y="90">74169</text><text class="c" x="478.5" y="102">55.10%</text>
<text class="a" x="718.5" y="77">175</text><text class="b" x="718.5" y="90">75219</text><text class="c" x="718.5" y="102">55.10%</text>
<text class="a" x="958.5" y="77">175</text><text class="b" x="958.5" y="90">76269</text><text class="c" x="958.5" y="102">55.10%</text>
</g>

<g id="row-m65-68" transform="translate(31.3 2461.3)">
<use href="#s4"/>
<rect class="og" x="240" width="210" height="60"/>
<rect class="or" x="240" width="10" height="60"/>
<rect class="ob" x="250" width="710" height="60"/>
<circle class="B" cx="0" cy="45"/><circle class="B" cx="30" cy="45"/><circle class="O" cx="60" cy="60"/><circle class="Y" cx="90" cy="30"/><circle class="Y" cx="150" cy="30"/><circle class="B" cx="180" cy="45"/><circle class="B" cx="210" cy="45"/>
<use href="#st" class="R" x="240" y="15"/><use href="#st" class="Rt" x="270" y="15"/><use href="#st" class="Ot" x="300" y="60"/><use href="#st" class="G" x="330" y="0"/><use href="#st" class="G" x="390" y="0"/><use href="#st" class="Rt" x="420" y="15"/><use href="#st" class="Yt" x="450" y="30"/>
<circle class="B" cx="480" cy="45"/><circle class="B" cx="510" cy="45"/><circle class="Ob" cx="540" cy="60"/><circle class="Yb" cx="570" cy="30"/><circle class="Yb" cx="630" cy="30"/><circle class="B" cx="660" cy="45"/><circle class="B" cx="690" cy="45"/>
<circle class="Rb" cx="720" cy="15"/><circle class="Rb" cx="750" cy="15"/><circle class="Ob" cx="780" cy="60"/><circle class="Gb" cx="810" cy="0"/><circle class="Gb" cx="870" cy="0"/><circle class="Rb" cx="900" cy="15"/><circle class="Yb" cx="930" cy="30"/>
<text class="t" x="0" y="-20">♩=129</text><text class="t" x="240" y="-20">♩=131</text><text class="t" x="480" y="-20">♩=130</text>
<text class="m" x="1" y="-8">65</text><text class="m" x="241" y="-8">66</text><text class="m" x="481" y="-8">67</text><text class="m" x="721" y="-8">68</text>
<text class="a" x="238.5" y="77">175</text><text class="b" x="238.5" y="90">77319</text><text class="c" x="238.5" y="102">55.10%</text>
<text class="a" x="478.5" y="77">175</text><text class="b" x="478.5" y="90">79419</text><text class="c" x="478.5" y="102">68.16%</text>
<text class="a" x="718.5" y="77">175</text><text class="b" x="718.5" y="90">81519</text><text class="c" x="718.5" y="102">55.66%</text>
<text class="a" x="958.5" y="77">175</text><text class="b" x="958.5" y="90">83619</text><text class="c" x="958.5" y="102">43.16%</text>
</g>

<g id="row-m69-72" transform="translate(31.3 2602.3)">
<use href="#s4"/>
<rect class="ob" x="0" width="960" height="60"/>
<circle class="B" cx="0" cy="45"/><circle class="B" cx="30" cy="45"/><circle class="B" cx="60" cy="45"/><circle class="B" cx="90" cy="45"/><circle class="B" cx="120" cy="45"/><circle class="B" cx="150" cy="45"/><circle class="B" cx="180" cy="45"/><circle class="B" cx="210" cy="45"/><circle class="Ob" cx="225" cy="60"/>
<circle class="Yb" cx="240" cy="30"/><circle class="Yb" cx="270" cy="30"/><circle class="Yb" cx="300" cy="30"/><circle class="Yb" cx="330" cy="30"/><circle class="Yb" cx="360" cy="30"/><circle class="Yb" cx="390" cy="30"/><circle class="Yb" cx="420" cy="30"/><circle class="Yb" cx="450" cy="30"/>
<circle class="Ob" cx="480" cy="60"/><circle class="Ob" cx="510" cy="60"/><circle class="Ob" cx="540" cy="60"/><circle class="Ob" cx="570" cy="60"/><circle class="Ob" cx="600" cy="60"/><circle class="Ob" cx="630" cy="60"/><circle class="Ob" cx="660" cy="60"/><circle class="Ob" cx="690" cy="60"/>
<circle class="Gb" cx="720" cy="0"/><circle class="Gb" cx="750" cy="0"/><circle class="Gb" cx="780" cy="0"/><circle class="Gb" cx="810" cy="0"/><circle class="Gb" cx="840" cy="0"/><circle class="Gb" cx="870" cy="0"/><circle class="Gb" cx="900" cy="0"/><circle class="Rb" cx="930" cy="15"/>
<text class="t" x="0" y="-20">♩=128</text><text class="t" x="240" y="-20">♩=128</text><text class="t" x="480" y="-20">♩=129</text><text class="t" x="720" y="-20">♩=128</text>
<text class="m" x="1" y="-8">69</text><text class="m" x="241" y="-8">70</text><text class="m" x="481" y="-8">71</text><text class="m" x="721" y="-8">72</text>
<text class="a" x="238.5" y="77">225</text><text class="b" x="238.5" y="90">86319</text><text class="c" x="238.5" y="102">30.66%</text>
<text class="a" x="478.5" y="77">200</text><text class="b" x="478.5" y="90">88719</text><text class="c" x="478.5" y="102">18.16%</text>
<text class="a" x="718.5" y="77">200</text><text class="b" x="718.5" y="90">91119</text><text class="c" x="718.5" y="102">5.66%</text>
<text class="a" x="958.5" y="77">200</text><text class="b" x="958.5" y="90">93519</text><text class="c" x="958.5" y="102">0.00%</text>
</g>

<g id="row-m73-76" transform="translate(31.3 2743.3)">
<rect class="yb" x="480" y="-10.5" width="210" height="82"/>
<use href="#s4"/>
<rect class="og" x="480" width="210" height="60"/>
<rect class="ob" x="0" width="348" height="60"/>
<rect class="or" x="348" width="12" height="60"/>
<circle class="B" cx="0" cy="45"/><circle class="B" cx="30" cy="45"/><circle class="B" cx="60" cy="45"/><circle class="B" cx="90" cy="45"/><circle class="B" cx="120" cy="45"/><circle class="B" cx="150" cy="45"/><circle class="B" cx="180" cy="45"/><circle class="B" cx="210" cy="45"/>
<circle class="Rb" cx="240" cy="15"/><circle class="Rb" cx="270" cy="15"/><circle class="Rb" cx="300" cy="15"/><circle class="Rb" cx="330" cy="15"/><circle class="R" cx="360" cy="15"/><circle class="R" cx="390" cy="15"/><circle class="R" cx="420" cy="15"/><circle class="R" cx="450" cy="15"/>
<use href="#st" class="Yg" x="480" y="30"/><use href="#st" class="Yg" x="510" y="30"/><use href="#st" class="Yg" x="540" y="30"/><use href="#st" class="Yg" x="570" y="30"/><use href="#st" class="Yg" x="600" y="30"/><use href="#st" class="Yg" x="630" y="30"/><use href="#st" class="Yg" x="660" y="30"/><use href="#st" class="Yg" x="690" y="30"/>
<circle class="O" cx="720" cy="60"/><circle class="O" cx="750" cy="60"/><circle class="O" cx="780" cy="60"/><circle class="O" cx="810" cy="60"/><circle class="O" cx="840" cy="60"/><circle class="O" cx="870" cy="60"/><circle class="O" cx="900" cy="60"/><circle class="Y" cx="930" cy="30"/>
<text class="t" x="0" y="-20">♩=130</text><text class="t" x="720" y="-20">♩=128</text>
<text class="m" x="1" y="-8">73</text><text class="m" x="241" y="-8">74</text><text class="m" x="481" y="-8">75</text><text class="m" x="721" y="-8">76</text>
<text class="a" x="238.5" y="77">200</text><text class="b" x="238.5" y="90">95919</text><text class="c" x="238.5" y="102">0.00%</text>
<text class="a" x="478.5" y="77">200</text><text class="b" x="478.5" y="90">97869</text><text class="c" x="478.5" y="102">0.00%</text>
<text class="a" x="718.5" y="77">200</text><text class="b" x="718.5" y="90">99069</text><text class="c" x="718.5" y="102">25.00%</text>
<text class="a" x="958.5" y="77">200</text><text class="b" x="958.5" y="90">100269</text><text class="c" x="958.5" y="102">25.00%</text>
</g>

<g id="row-m77-80" transform="translate(31.3 2884.3)">
<use href="#s4"/>
<rect class="ob" x="240" width="720" height="60"/>
<circle class="B" cx="0" cy="45"/><circle class="B" cx="30" cy="45"/><circle class="G" cx="60" cy="0"/><circle class="G" cx="90" cy="0"/><circle class="B" cx="120" cy="45"/><circle class="B" cx="150" cy="45"/><circle class="G" cx="180" cy="0"/>
<circle class="Rb" cx="240" cy="15"/><circle class="Rb" cx="270" cy="15"/><circle class="Gb" cx="300" cy="0"/><circle class="Gb" cx="330" cy="0"/><circle class="Rb" cx="360" cy="15"/><circle class="Rb" cx="390" cy="15"/><circle class="Gb" cx="420" cy="0"/><circle class="Rb" cx="450" cy="15"/>
<circle class="Yb" cx="480" cy="30"/><circle class="Yb" cx="510" cy="30"/><circle class="Gb" cx="540" cy="0"/><circle class="Gb" cx="570" cy="0"/><circle class="Yb" cx="600" cy="30"/><circle class="Yb" cx="630" cy="30"/><circle class="Gb" cx="660" cy="0"/><circle class="Yb" cx="690" cy="30"/>
<circle class="Gb" cx="720" cy="0"/><circle class="Gb" cx="750" cy="0"/><circle class="Rb" cx="780" cy="15"/><circle class="Rb" cx="810" cy="15"/><circle class="Gb" cx="840" cy="0"/><circle class="Gb" cx="870" cy="0"/><circle class="Rb" cx="900" cy="15"/><circle class="Yb" cx="930" cy="30"/>
<text class="t" x="0" y="-20">♩=129</text><text class="t" x="240" y="-20">♩=128</text><text class="t" x="480" y="-20">♩=128</text><text class="t" x="720" y="-20">♩=130</text>
<text class="m" x="1" y="-8">77</text><text class="m" x="241" y="-8">78</text><text class="m" x="481" y="-8">79</text><text class="m" x="721" y="-8">80</text>
<text class="a" x="238.5" y="77">175</text><text class="b" x="238.5" y="90">101319</text><text class="c" x="238.5" y="102">24.98%</text>
<text class="a" x="478.5" y="77">200</text><text class="b" x="478.5" y="90">103719</text><text class="c" x="478.5" y="102">12.48%</text>
<text class="a" x="718.5" y="77">200</text><text class="b" x="718.5" y="90">106119</text><text class="c" x="718.5" y="102">0.00%</text>
<text class="a" x="958.5" y="77">200</text><text class="b" x="958.5" y="90">108519</text><text class="c" x="958.5" y="102">0.00%</text>
</g>

<g id="row-m81-84" transform="translate(31.3 3025.3)">
<rect class="yb" x="480" y="-10.5" width="210" height="82"/>
<use href="#s4"/>
<rect class="og" x="480" width="210" height="60"/>
<rect class="ob" x="0" width="240" height="60"/>
<rect class="or" x="239" width="2" height="60"/>
<circle class="B" cx="0" cy="45"/><circle class="B" cx="30" cy="45"/><circle class="B" cx="60" cy="45"/><circle class="B" cx="90" cy="45"/><circle class="B" cx="120" cy="45"/><circle class="B" cx="150" cy="45"/><circle class="B" cx="180" cy="45"/><circle class="B" cx="210" cy="45"/>
<circle class="R" cx="240" cy="15"/><circle class="R" cx="270" cy="15"/><circle class="R" cx="300" cy="15"/><circle class="R" cx="330" cy="15"/><circle class="R" cx="360" cy="15"/><circle class="R" cx="390" cy="15"/><circle class="R" cx="420" cy="15"/><circle class="R" cx="450" cy="15"/>
<use href="#st" class="G" x="480" y="0"/><use href="#st" class="G" x="510" y="0"/><use href="#st" class="G" x="540" y="0"/><use href="#st" class="G" x="570" y="0"/><use href="#st" class="G" x="600" y="0"/><use href="#st" class="G" x="630" y="0"/><use href="#st" class="G" x="660" y="0"/><use href="#st" class="G" x="690" y="0"/>
<circle class="R" cx="720" cy="15"/><circle class="R" cx="750" cy="15"/><circle class="R" cx="780" cy="15"/><circle class="R" cx="810" cy="15"/><circle class="R" cx="840" cy="15"/><circle class="R" cx="870" cy="15"/><circle class="R" cx="900" cy="15"/><circle class="R" cx="930" cy="15"/>
<text class="t" x="0" y="-20">♩=128</text><text class="t" x="240" y="-20">♩=130</text><text class="t" x="480" y="-20">♩=130</text><text class="t" x="720" y="-20">♩=128</text>
<text class="m" x="1" y="-8">81</text><text class="m" x="241" y="-8">82</text><text class="m" x="481" y="-8">83</text><text class="m" x="721" y="-8">84</text>
<text class="a" x="238.5" y="77">200</text><text class="b" x="238.5" y="90">110919</text><text class="c" x="238.5" y="102">0.00%</text>
<text class="a" x="478.5" y="77">200</text><text class="b" x="478.5" y="90">112269</text><text class="c" x="478.5" y="102">0.00%</text>
<text class="a" x="718.5" y="77">200</text><text class="b" x="718.5" y="90">113469</text><text class="c" x="718.5" y="102">25.00%</text>
<text class="a" x="958.5" y="77">200</text><text class="b" x="958.5" y="90">114669</text><text class="c" x="958.5" y="102">25.00%</text>
</g>

<g id="row-m85-88" transform="translate(31.3 3166.3)">
<use href="#s4"/>
<rect class="Y" x="90" y="27" width="90" height="6"/><rect class="G" x="240" y="-3" width="60" height="6"/>
<rect class="Y" x="570" y="27" width="90" height="6"/><rect class="G" x="720" y="-3" width="60" height="6"/><rect class="B" x="810" y="42" width="90" height="6"/>
<circle class="Y" cx="0" cy="30"/><circle class="B" cx="30" cy="45"/><circle class="O" cx="60" cy="60"/><circle class="Y" cx="90" cy="30"/><circle class="G" cx="210" cy="0"/>
<circle class="G" cx="240" cy="0"/><circle class="B" cx="330" cy="45"/><circle class="B" cx="360" cy="45"/><circle class="Y" cx="390" cy="30"/><circle class="Y" cx="420" cy="30"/>
<circle class="Y" cx="480" cy="30"/><circle class="B" cx="510" cy="45"/><circle class="O" cx="540" cy="60"/><circle class="Y" cx="570" cy="30"/><circle class="G" cx="690" cy="0"/>
<circle class="G" cx="720" cy="0"/><circle class="B" cx="810" cy="45"/>
<text class="t" x="0" y="-20">♩=127</text><text class="t" x="240" y="-20">♩=128</text><text class="t" x="480" y="-20">♩=130</text><text class="t" x="720" y="-20">♩=128</text>
<text class="m" x="1" y="-8">85</text><text class="m" x="241" y="-8">86</text><text class="m" x="481" y="-8">87</text><text class="m" x="721" y="-8">88</text>
<text class="a" x="238.5" y="77">143</text><text class="b" x="238.5" y="90">115527</text><text class="c" x="238.5" y="102">25.00%</text>
<text class="a" x="478.5" y="77">137</text><text class="b" x="478.5" y="90">116349</text><text class="c" x="478.5" y="102">25.00%</text>
<text class="a" x="718.5" y="77">143</text><text class="b" x="718.5" y="90">117207</text><text class="c" x="718.5" y="102">25.00%</text>
<text class="a" x="958.5" y="77">80</text><text class="b" x="958.5" y="90">117687</text><text class="c" x="958.5" y="102">25.00%</text>
</g>

<g id="row-m89-92" transform="translate(31.3 3307.3)">
<use href="#s84b"/>
<rect class="og" x="210" width="210" height="60"/>
<text class="ts" x="724" y="27.5">2<tspan x="724" y="57.5">4</tspan></text>
<rect class="Y" x="90" y="27" width="90" height="6"/><rect class="G" x="240" y="-3" width="60" height="6"/><rect class="Bg" x="330" y="42" width="45" height="6"/>
<rect class="Y" x="570" y="27" width="90" height="6"/><rect class="G" x="720" y="-3" width="60" height="6"/>
<circle class="Y" cx="0" cy="30"/><circle class="B" cx="30" cy="45"/><circle class="O" cx="60" cy="60"/><circle class="Y" cx="90" cy="30"/>
<use href="#st" class="G" x="210" y="0"/><use href="#st" class="G" x="240" y="0"/><use href="#st" class="Bg" x="330" y="45"/><use href="#st" class="Yg" x="390" y="30"/><use href="#st" class="Yg" x="420" y="30"/>
<circle class="Y" cx="480" cy="30"/><circle class="B" cx="510" cy="45"/><circle class="O" cx="540" cy="60"/><circle class="Y" cx="570" cy="30"/><circle class="G" cx="690" cy="0"/>
<circle class="G" cx="720" cy="0"/><circle class="B" cx="810" cy="45"/>
<text class="t" x="0" y="-20">♩=128</text><text class="t" x="240" y="-20">♩=129</text><text class="t" x="480" y="-20">♩=131</text><text class="t" x="720" y="-20">♩=130</text>
<text class="m" x="1" y="-8">89</text><text class="m" x="241" y="-8">90</text><text class="m" x="481" y="-8">91</text><text class="m" x="721" y="-8">92</text>
<text class="a" x="238.5" y="77">143</text><text class="b" x="238.5" y="90">118545</text><text class="c" x="238.5" y="102">25.00%</text>
<text class="a" x="478.5" y="77">121</text><text class="b" x="478.5" y="90">119271</text><text class="c" x="478.5" y="102">55.95%</text>
<text class="a" x="718.5" y="77">143</text><text class="b" x="718.5" y="90">120129</text><text class="c" x="718.5" y="102">55.95%</text>
<text class="a" x="838.5" y="77">62</text><text class="b" x="838.5" y="90">120501</text><text class="c" x="838.5" y="102">55.95%</text>
</g>

<g id="row-m93-96" transform="translate(31.3 3448.3)">
<use href="#s4"/>
<text class="ts" x="4" y="27.5">4<tspan x="4" y="57.5">4</tspan></text>
<rect class="Y" x="570" y="27" width="90" height="6"/><rect class="G" x="720" y="-3" width="60" height="6"/>
<circle class="B" cx="0" cy="45"/><circle class="B" cx="30" cy="45"/><circle class="B" cx="60" cy="45"/><circle class="B" cx="90" cy="45"/><circle class="B" cx="120" cy="45"/><circle class="B" cx="150" cy="45"/><circle class="B" cx="180" cy="45"/><circle class="B" cx="210" cy="45"/>
<circle class="B" cx="240" cy="45"/><circle class="B" cx="270" cy="45"/><circle class="B" cx="300" cy="45"/><circle class="B" cx="330" cy="45"/><circle class="B" cx="360" cy="45"/><circle class="B" cx="390" cy="45"/><circle class="B" cx="420" cy="45"/><circle class="O" cx="450" cy="60"/>
<circle class="Y" cx="480" cy="30"/><circle class="B" cx="510" cy="45"/><circle class="O" cx="540" cy="60"/><circle class="Y" cx="570" cy="30"/><circle class="G" cx="690" cy="0"/>
<circle class="G" cx="720" cy="0"/><circle class="B" cx="810" cy="45"/><circle class="B" cx="840" cy="45"/><circle class="Y" cx="870" cy="30"/><circle class="Y" cx="900" cy="30"/>
<text class="t" x="0" y="-20">♩=131</text><text class="t" x="480" y="-20">♩=128</text><text class="t" x="720" y="-20">♩=130</text>
<text class="m" x="1" y="-8">93</text><text class="m" x="241" y="-8">94</text><text class="m" x="481" y="-8">95</text><text class="m" x="721" y="-8">96</text>
<text class="a" x="238.5" y="77">200</text><text class="b" x="238.5" y="90">121701</text><text class="c" x="238.5" y="102">55.95%</text>
<text class="a" x="478.5" y="77">200</text><text class="b" x="478.5" y="90">122901</text><text class="c" x="478.5" y="102">55.95%</text>
<text class="a" x="718.5" y="77">143</text><text class="b" x="718.5" y="90">123759</text><text class="c" x="718.5" y="102">55.95%</text>
<text class="a" x="958.5" y="77">137</text><text class="b" x="958.5" y="90">124581</text><text class="c" x="958.5" y="102">55.95%</text>
</g>

<g id="row-m97-100" transform="translate(31.3 3589.3)">
<use href="#s4"/>
<rect class="Y" x="90" y="27" width="90" height="6"/><rect class="G" x="240" y="-3" width="60" height="6"/><rect class="B" x="330" y="42" width="45" height="6"/><rect class="O" x="420" y="57" width="45" height="6"/>
<rect class="Y" x="570" y="27" width="52.5" height="6"/><rect class="G" x="720" y="-3" width="60" height="6"/><rect class="B" x="810" y="42" width="45" height="6"/>
<circle class="Y" cx="0" cy="30"/><circle class="B" cx="30" cy="45"/><circle class="O" cx="60" cy="60"/><circle class="Y" cx="90" cy="30"/><circle class="G" cx="210" cy="0"/>
<circle class="G" cx="240" cy="0"/><circle class="B" cx="330" cy="45"/><circle class="Y" cx="390" cy="30"/><circle class="O" cx="420" cy="60"/>
<circle class="B" cx="480" cy="45"/><circle class="B" cx="510" cy="45"/><circle class="B" cx="540" cy="45"/><circle class="Y" cx="570" cy="30"/><circle class="Y" cx="630" cy="30"/><circle class="G" cx="690" cy="0"/>
<circle class="G" cx="720" cy="0"/><circle class="B" cx="810" cy="45"/><circle class="Y" cx="870" cy="30"/><circle class="Y" cx="900" cy="30"/>
<text class="t" x="0" y="-20">♩=129</text><text class="t" x="480" y="-20">♩=128</text><text class="t" x="720" y="-20">♩=130</text>
<text class="m" x="1" y="-8">97</text><text class="m" x="241" y="-8">98</text><text class="m" x="481" y="-8">99</text><text class="m" x="721" y="-8">100</text>
<text class="a" x="238.5" y="77">143</text><text class="b" x="238.5" y="90">125439</text><text class="c" x="238.5" y="102">55.95%</text>
<text class="a" x="478.5" y="77">130</text><text class="b" x="478.5" y="90">126219</text><text class="c" x="478.5" y="102">55.95%</text>
<text class="a" x="718.5" y="77">161</text><text class="b" x="718.5" y="90">127185</text><text class="c" x="718.5" y="102">55.95%</text>
<text class="a" x="958.5" y="77">121</text><text class="b" x="958.5" y="90">127911</text><text class="c" x="958.5" y="102">55.95%</text>
</g>

<g id="row-m101-104" transform="translate(31.3 3730.3)">
<use href="#s84a"/>
<text class="ts" x="244" y="27.5">2<tspan x="244" y="57.5">4</tspan></text><text class="ts" x="364" y="27.5">4<tspan x="364" y="57.5">4</tspan></text>
<rect class="og" x="540" width="210" height="60"/>
<rect class="or" x="330" width="2" height="60"/>
<rect class="ob" x="332" width="508" height="60"/>
<rect class="Y" x="90" y="27" width="90" height="6"/><rect class="G" x="240" y="-3" width="60" height="6"/>
<circle class="Y" cx="0" cy="30"/><circle class="B" cx="30" cy="45"/><circle class="O" cx="60" cy="60"/><circle class="Y" cx="90" cy="30"/><circle class="G" cx="210" cy="0"/><circle class="G" cx="240" cy="0"/><circle class="G" cx="330" cy="0"/>
<circle class="B" cx="360" cy="45"/><circle class="B" cx="390" cy="45"/><circle class="B" cx="420" cy="45"/><circle class="B" cx="450" cy="45"/><circle class="B" cx="480" cy="45"/><circle class="B" cx="510" cy="45"/>
<use href="#st" class="Rt" x="540" y="15"/><use href="#st" class="Yt" x="570" y="30"/><use href="#st" class="Bt" x="600" y="45"/><use href="#st" class="Ot" x="630" y="60"/><use href="#st" class="Rt" x="660" y="15"/><use href="#st" class="Yt" x="690" y="30"/><use href="#st" class="Rt" x="720" y="15"/><use href="#st" class="Yt" x="750" y="30"/>
<circle class="Gb" cx="780" cy="0"/><circle class="Rb" cx="810" cy="15"/>
<text class="t" x="0" y="-20">♩=130</text><text class="t" x="240" y="-20">♩=132</text><text class="t" x="360" y="-20">♩=131</text><text class="t" x="600" y="-20">♩=132</text>
<text class="m" x="1" y="-8">101</text><text class="m" x="241" y="-8">102</text><text class="m" x="361" y="-8">103</text><text class="m" x="601" y="-8">104</text>
<text class="a" x="238.5" y="77">143</text><text class="b" x="238.5" y="90">128769</text><text class="c" x="238.5" y="102">55.95%</text>
<text class="a" x="358.5" y="77">62</text><text class="b" x="358.5" y="90">129291</text><text class="c" x="358.5" y="102">54.51%</text>
<text class="a" x="598.5" y="77">200</text><text class="b" x="598.5" y="90">131691</text><text class="c" x="598.5" y="102">42.01%</text>
<text class="a" x="838.5" y="77">200</text><text class="b" x="838.5" y="90">134091</text><text class="c" x="838.5" y="102">54.51%</text>
</g>

<g id="row-m105-108" transform="translate(31.3 3871.3)">
<use href="#s4"/>
<rect class="ob" x="0" width="960" height="60"/>
<circle class="B" cx="0" cy="45"/><circle class="B" cx="30" cy="45"/><circle class="Ob" cx="60" cy="60"/><circle class="Yb" cx="90" cy="30"/><circle class="Yb" cx="150" cy="30"/><circle class="B" cx="180" cy="45"/><circle class="B" cx="210" cy="45"/>
<circle class="Rb" cx="240" cy="15"/><circle class="Rb" cx="270" cy="15"/><circle class="Ob" cx="300" cy="60"/><circle class="Gb" cx="330" cy="0"/><circle class="Gb" cx="390" cy="0"/><circle class="Rb" cx="420" cy="15"/><circle class="Yb" cx="450" cy="30"/>
<circle class="B" cx="480" cy="45"/><circle class="B" cx="510" cy="45"/><circle class="Ob" cx="540" cy="60"/><circle class="Yb" cx="570" cy="30"/><circle class="Yb" cx="630" cy="30"/><circle class="B" cx="660" cy="45"/><circle class="B" cx="690" cy="45"/>
<circle class="Rb" cx="720" cy="15"/><circle class="Rb" cx="750" cy="15"/><circle class="Ob" cx="780" cy="60"/><circle class="Gb" cx="810" cy="0"/><circle class="Gb" cx="870" cy="0"/><circle class="Rb" cx="900" cy="15"/><circle class="Yb" cx="930" cy="30"/>
<text class="t" x="0" y="-20">♩=129</text><text class="t" x="240" y="-20">♩=130</text><text class="t" x="480" y="-20">♩=130</text>
<text class="m" x="1" y="-8">105</text><text class="m" x="241" y="-8">106</text><text class="m" x="481" y="-8">107</text><text class="m" x="721" y="-8">108</text>
<text class="a" x="238.5" y="77">175</text><text class="b" x="238.5" y="90">136191</text><text class="c" x="238.5" y="102">42.01%</text>
<text class="a" x="478.5" y="77">175</text><text class="b" x="478.5" y="90">138291</text><text class="c" x="478.5" y="102">29.51%</text>
<text class="a" x="718.5" y="77">175</text><text class="b" x="718.5" y="90">140391</text><text class="c" x="718.5" y="102">17.01%</text>
<text class="a" x="958.5" y="77">175</text><text class="b" x="958.5" y="90">142491</text><text class="c" x="958.5" y="102">4.51%</text>
</g>

<g id="row-m109-112" transform="translate(31.3 4012.3)">
<use href="#s4"/>
<rect class="ob" x="0" width="569" height="60"/>
<rect class="or" x="569" width="4" height="60"/>
<circle class="B" cx="0" cy="45"/><circle class="B" cx="30" cy="45"/><circle class="Ob" cx="60" cy="60"/><circle class="Yb" cx="90" cy="30"/><circle class="Yb" cx="150" cy="30"/><circle class="B" cx="180" cy="45"/><circle class="B" cx="210" cy="45"/>
<circle class="Rb" cx="240" cy="15"/><circle class="Rb" cx="270" cy="15"/><circle class="Ob" cx="300" cy="60"/><circle class="Gb" cx="330" cy="0"/><circle class="Gb" cx="390" cy="0"/><circle class="Rb" cx="420" cy="15"/><circle class="Yb" cx="450" cy="30"/>
<circle class="B" cx="480" cy="45"/><circle class="B" cx="510" cy="45"/><circle class="Ob" cx="540" cy="60"/><circle class="Y" cx="570" cy="30"/><circle class="Y" cx="630" cy="30"/><circle class="B" cx="660" cy="45"/><circle class="B" cx="690" cy="45"/>
<circle class="R" cx="720" cy="15"/><circle class="R" cx="750" cy="15"/><circle class="O" cx="780" cy="60"/><circle class="G" cx="810" cy="0"/><circle class="G" cx="870" cy="0"/><circle class="R" cx="900" cy="15"/><circle class="Y" cx="930" cy="30"/>
<text class="t" x="0" y="-20">♩=129</text><text class="t" x="240" y="-20">♩=130</text><text class="t" x="480" y="-20">♩=131</text><text class="t" x="720" y="-20">♩=130</text>
<text class="m" x="1" y="-8">109</text><text class="m" x="241" y="-8">110</text><text class="m" x="481" y="-8">111</text><text class="m" x="721" y="-8">112</text>
<text class="a" x="238.5" y="77">175</text><text class="b" x="238.5" y="90">144591</text><text class="c" x="238.5" y="102">0.00%</text>
<text class="a" x="478.5" y="77">175</text><text class="b" x="478.5" y="90">146691</text><text class="c" x="478.5" y="102">0.00%</text>
<text class="a" x="718.5" y="77">175</text><text class="b" x="718.5" y="90">148341</text><text class="c" x="718.5" y="102">0.00%</text>
<text class="a" x="958.5" y="77">175</text><text class="b" x="958.5" y="90">149391</text><text class="c" x="958.5" y="102">0.00%</text>
</g>

<g id="row-m113-116" transform="translate(31.3 4153.3)">
<use href="#s4"/>
<rect class="G" x="810" y="-3" width="52.5" height="6"/>
<circle class="B" cx="0" cy="45"/><circle class="B" cx="30" cy="45"/><circle class="O" cx="60" cy="60"/><circle class="Y" cx="90" cy="30"/><circle class="Y" cx="150" cy="30"/><circle class="B" cx="180" cy="45"/><circle class="B" cx="210" cy="45"/>
<circle class="R" cx="240" cy="15"/><circle class="R" cx="270" cy="15"/><circle class="O" cx="300" cy="60"/><circle class="G" cx="330" cy="0"/><circle class="G" cx="390" cy="0"/><circle class="G" cx="450" cy="0"/>
<circle class="B" cx="480" cy="45"/><circle class="B" cx="510" cy="45"/><circle class="O" cx="540" cy="60"/><circle class="Y" cx="570" cy="30"/><circle class="Y" cx="630" cy="30"/><circle class="B" cx="660" cy="45"/><circle class="B" cx="690" cy="45"/>
<circle class="R" cx="720" cy="15"/><circle class="R" cx="750" cy="15"/><circle class="O" cx="780" cy="60"/><circle class="G" cx="810" cy="0"/><circle class="G" cx="870" cy="0"/><circle class="R" cx="900" cy="15"/><circle class="Y" cx="930" cy="30"/>
<text class="t" x="240" y="-20">♩=129</text><text class="t" x="480" y="-20">♩=130</text>
<text class="m" x="1" y="-8">113</text><text class="m" x="241" y="-8">114</text><text class="m" x="481" y="-8">115</text><text class="m" x="721" y="-8">116</text>
<text class="a" x="238.5" y="77">175</text><text class="b" x="238.5" y="90">150441</text><text class="c" x="238.5" y="102">0.00%</text>
<text class="a" x="478.5" y="77">150</text><text class="b" x="478.5" y="90">151341</text><text class="c" x="478.5" y="102">0.00%</text>
<text class="a" x="718.5" y="77">175</text><text class="b" x="718.5" y="90">152391</text><text class="c" x="718.5" y="102">0.00%</text>
<text class="a" x="958.5" y="77">186</text><text class="b" x="958.5" y="90">153507</text><text class="c" x="958.5" y="102">0.00%</text>
</g>

<g id="row-m117-120" transform="translate(31.3 4294.3)">
<use href="#s4"/>
<rect class="Y" x="90" y="27" width="52.5" height="6"/><rect class="G" x="330" y="-3" width="52.5" height="6"/><rect class="Y" x="570" y="27" width="52.5" height="6"/><rect class="B" x="690" y="42" width="270" height="6"/>
<circle class="B" cx="0" cy="45"/><circle class="B" cx="30" cy="45"/><circle class="O" cx="60" cy="60"/><circle class="Y" cx="90" cy="30"/><circle class="Y" cx="150" cy="30"/><circle class="B" cx="180" cy="45"/><circle class="B" cx="210" cy="45"/>
<circle class="R" cx="240" cy="15"/><circle class="R" cx="270" cy="15"/><circle class="O" cx="300" cy="60"/><circle class="G" cx="330" cy="0"/><circle class="G" cx="390" cy="0"/><circle class="G" cx="420" cy="0"/><circle class="G" cx="450" cy="0"/>
<circle class="R" cx="480" cy="15"/><circle class="R" cx="510" cy="15"/><circle class="Y" cx="570" cy="30"/><circle class="Y" cx="630" cy="30"/><circle class="B" cx="690" cy="45"/>
<text class="t" x="480" y="-20">♩=132</text>
<text class="m" x="1" y="-8">117</text><text class="m" x="241" y="-8">118</text><text class="m" x="481" y="-8">119</text><text class="m" x="721" y="-8">120</text>
<text class="a" x="238.5" y="77">186</text><text class="b" x="238.5" y="90">154623</text><text class="c" x="238.5" y="102">0.00%</text>
<text class="a" x="478.5" y="77">186</text><text class="b" x="478.5" y="90">155739</text><text class="c" x="478.5" y="102">0.00%</text>
<text class="a" x="718.5" y="77">142</text><text class="b" x="718.5" y="90">156591</text><text class="c" x="718.5" y="102">0.00%</text>
<text class="a" x="958.5" y="77">48</text><text class="b" x="958.5" y="90">156879</text><text class="c" x="958.5" y="102">0.00%</text>
</g>

<g id="row-m121-122" transform="translate(31.3 4435.3)">
<use href="#s48"/>
<rect class="B" x="0" y="42" width="360" height="6"/>
<text class="m" x="1" y="-8">121</text><text class="m" x="241" y="-8">122</text>
<text class="a" x="238.5" y="77">48</text><text class="b" x="238.5" y="90">157167</text><text class="c" x="238.5" y="102">0.00%</text>
<text class="a" x="478.5" y="77">24</text><text class="b" x="478.5" y="90">157311</text><text class="c" x="478.5" y="102">0.00%</text>
</g>
</g>
</svg>
